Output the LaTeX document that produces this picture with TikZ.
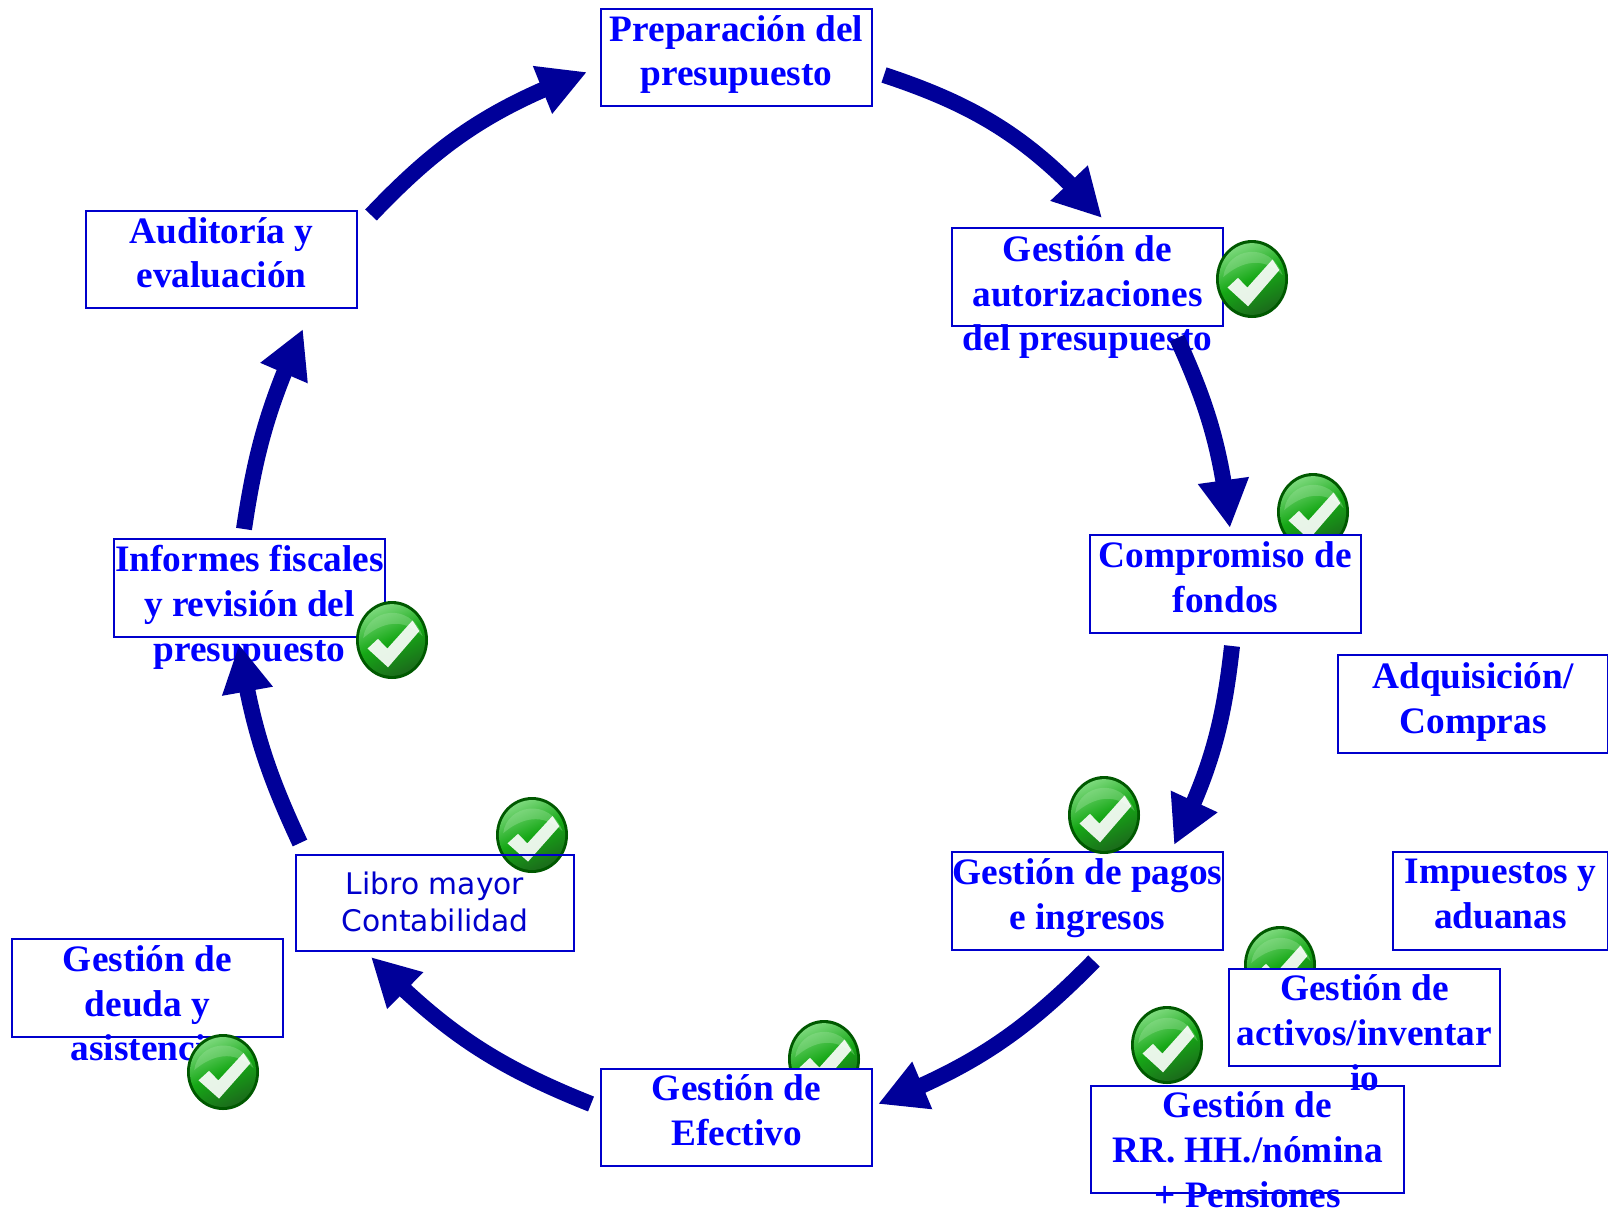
\documentclass[tikz,border=0pt]{standalone}
\usepackage{fontspec}
\setmainfont{Liberation Serif}
\newfontfamily\libfont{DejaVu Sans}
\usetikzlibrary{arrows.meta,bending}
\definecolor{boxblue}{HTML}{0000CC}
\definecolor{txtblue}{HTML}{0000FF}
\definecolor{arrowblue}{HTML}{000099}
\newdimen\pxu \pxu=0.75pt
\definecolor{okhi}{HTML}{7AD87A}
\definecolor{okmid}{HTML}{16A816}
\definecolor{oklo}{HTML}{1B6B1B}
\tikzset{
  boxnode/.style={draw=none,fill=white,inner sep=0pt,minimum width=271\pxu,minimum height=97\pxu},
  boxline/.style={draw=boxblue,line width=1.4pt},
  lbl/.style={anchor=north,align=center,text=txtblue,inner sep=0pt,font=\fontsize{28}{33.6}\selectfont\bfseries},
  libl/.style={anchor=center,align=center,text=boxblue,inner sep=0pt,font=\fontsize{22.3}{28}\libfont},
  flow/.style={draw=arrowblue,line width=12pt,-{Triangle[length=36pt,width=36pt,flex=1]}},
  okmark/.pic={
    \fill[green!35!black] (0,0) circle (1);
    \shade[top color=okhi,bottom color=oklo,middle color=okmid,shading angle=25] (0,0) circle (.92);
    \fill[okhi!70!white,opacity=.35] (-.8,-.05) .. controls (-.7,-.8) and (.5,-1) .. (.85,-.1) .. controls (.3,-.6) and (-.3,-.45) .. cycle;
    \fill[white,opacity=.9] (-.68,.22) -- (-.39,-.03) -- (-.13,.22) -- (.57,-.5) -- (.76,-.23) -- (-.11,.7) -- cycle;
  }
}
\begin{document}
\begin{tikzpicture}[x=0.75pt,y=-0.75pt]
\useasboundingbox (0,0) rectangle (1608,1209);
% icons lying under boxes
\pic[xscale=36,yscale=39] at (1313,512) {okmark};
\pic[xscale=36,yscale=39] at (1280,965) {okmark};
\pic[xscale=36,yscale=39] at (824,1059) {okmark};
% boxes
\node[boxnode] (prep) at (736.5,57.5) {};
\node[boxnode] (auto) at (1087.5,277) {};
\node[boxnode] (comp) at (1225.5,584) {};
\node[boxnode,minimum width=270\pxu] (adq) at (1473,704) {};
\node[boxnode,minimum width=215\pxu] (imp) at (1500.5,901) {};
\node[boxnode] (pago) at (1087.5,901) {};
\node[boxnode] (acti) at (1364.5,1017.5) {};
\node[boxnode,minimum width=313\pxu,minimum height=107\pxu] (rrhh) at (1247.5,1139.5) {};
\node[boxnode] (efec) at (736.5,1117.5) {};
\node[boxnode,minimum width=278\pxu,minimum height=96\pxu] (libr) at (435,903) {};
\node[boxnode] (deud) at (147.5,988) {};
\node[boxnode] (info) at (249.5,588) {};
\node[boxnode] (audi) at (221.5,259.5) {};
% icon seen through the box of the ledger
\pic[xscale=36,yscale=38] at (532,835) {okmark};
% box outlines
\foreach \b in {prep,auto,comp,adq,imp,pago,acti,rrhh,efec,libr,deud,info,audi}
  \draw[boxline] (\b.south west) rectangle (\b.north east);
% labels
\node[lbl] (tprep) at ([yshift=-4.6pt]prep.north) {Preparación del\\presupuesto};
\node[lbl] (tauto) at ([yshift=-5.2pt]auto.north) {Gestión de\\autorizaciones\\del presupuesto};
\node[lbl] (tcomp) at ([yshift=-4.6pt]comp.north) {Compromiso de\\fondos};
\node[lbl] (tadq) at ([yshift=-5.2pt]adq.north) {Adquisición/\\Compras};
\node[lbl] (timp) at ([yshift=-5.2pt]imp.north) {Impuestos y\\aduanas};
\node[lbl] (tpago) at ([yshift=-4.6pt]pago.north) {Gestión de pagos\\e ingresos};
\node[lbl] (tacti) at ([yshift=-4.4pt]acti.north) {Gestión de\\activos/inventar\\io};
\node[lbl] (trrhh) at ([yshift=-4.4pt]rrhh.north) {Gestión de\\RR. HH./nómina\\+ Pensiones};
\node[lbl] (tefec) at ([yshift=-4.4pt]efec.north) {Gestión de\\Efectivo};
\node[libl] (tlibr) at ([yshift=1pt]libr.center) {Libro mayor\\Contabilidad};
\node[lbl] (tdeud) at ([yshift=-4.4pt]deud.north) {Gestión de\\deuda y\\asistencia};
\node[lbl] (tinfo) at ([yshift=-4.4pt]info.north) {Informes fiscales\\y revisión del\\presupuesto};
\node[lbl] (taudi) at ([yshift=-4.6pt]audi.north) {Auditoría y\\evaluación};
% icons on top
\pic[xscale=36,yscale=39] at (1252,279) {okmark};
\pic[xscale=36,yscale=39] at (1104,815) {okmark};
\pic[xscale=36,yscale=39] at (1167,1045) {okmark};
\pic[xscale=36,yscale=39] at (392,640) {okmark};
\pic[xscale=36,yscale=38] at (223,1072) {okmark};
% connector ends
\coordinate (s1) at (884,75);   \coordinate (e1) at (1102,218);
\coordinate (s2) at (1177,338); \coordinate (e2) at (1230,528);
\coordinate (s3) at (1232,646); \coordinate (e3) at (1174,845);
\coordinate (s4) at (1094,961); \coordinate (e4) at (878,1104);
\coordinate (s5) at (591,1104); \coordinate (e5) at (371,957);
\coordinate (s6) at (300,843);  \coordinate (e6) at (239,644);
\coordinate (s7) at (244,529);  \coordinate (e7) at (303,329);
\coordinate (s8) at (371,215);  \coordinate (e8) at (587,72);
\draw[flow] (s1) to[bend left=15] (e1);
\draw[flow] (s2) to[bend left=9] (e2);
\draw[flow] (s3) to[bend left=10] (e3);
\draw[flow] (s4) to[bend left=12] (e4);
\draw[flow] (s5) to[bend left=12] (e5);
\draw[flow] (s6) to[bend left=8] (e6);
\draw[flow] (s7) to[bend left=8] (e7);
\draw[flow] (s8) to[bend left=13] (e8);
\end{tikzpicture}
\end{document}
